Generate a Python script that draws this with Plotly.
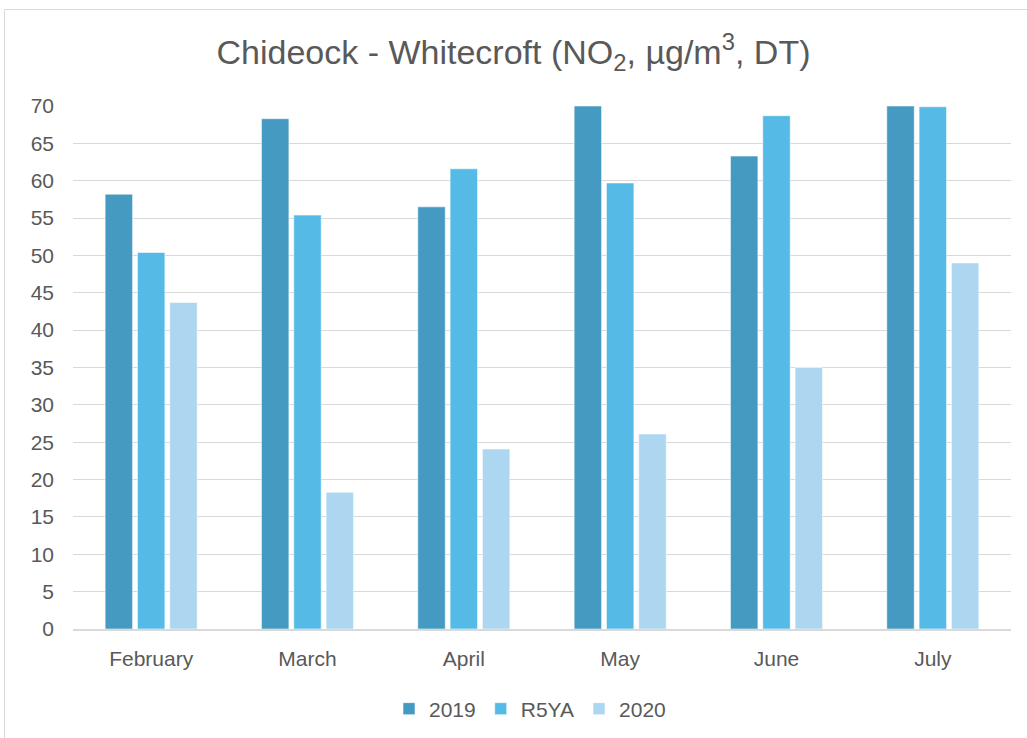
import plotly.graph_objects as go

months = ["February", "March", "April", "May", "June", "July"]
no2_2019 = [58.2, 68.3, 56.5, 70.0, 63.3, 70.0]
no2_r5ya = [50.4, 55.4, 61.6, 59.7, 68.7, 69.9]
no2_2020 = [43.7, 18.3, 24.1, 26.1, 35.0, 49.0]
y_ticks = list(range(0, 75, 5))

series = [
    ("2019", no2_2019, "#459AC1"),
    ("R5YA", no2_r5ya, "#55BBE6"),
    ("2020", no2_2020, "#ADD7F0"),
]

FONT = "Liberation Sans, Arial, sans-serif"
GREY = "#595959"

fig = go.Figure()
for name, vals, col in series:
    fig.add_trace(go.Bar(
        x=months, y=vals, name=name,
        marker=dict(color=col, line=dict(color="rgba(255,255,255,0.55)", width=1)),
    ))

W, H = 1027, 738
L, R, T, B = 73, 16, 106, 109
pw, ph = W - L - R, H - T - B

def px_x(p):
    return (p - L) / pw

def px_y(p):
    return (H - B - p) / ph

fig.update_layout(
    width=W, height=H,
    margin=dict(l=L, r=R, t=T, b=B, autoexpand=False),
    paper_bgcolor="white", plot_bgcolor="white",
    barmode="group", bargap=0.38, bargroupgap=0.15,
    font=dict(family=FONT, color=GREY, size=21),
    title=dict(
        text="Chideock - Whitecroft (NO<sub>2</sub>, µg/m<sup>3</sup>, DT)",
        x=0.5, xref="container", xanchor="center",
        y=1 - 52 / H, yref="container", yanchor="middle",
        font=dict(family=FONT, size=34, color=GREY),
    ),
    legend=dict(
        orientation="h", x=px_x(530), xanchor="center",
        y=px_y(709), yanchor="middle",
        font=dict(family=FONT, size=21, color=GREY),
        itemwidth=30, traceorder="normal",
    ),
    xaxis=dict(
        showgrid=False, showline=True, linecolor="#D9D9D9", linewidth=1.5,
        ticks="", ticklabelstandoff=10, automargin=False,
        tickfont=dict(family=FONT, size=21, color=GREY),
    ),
    yaxis=dict(
        range=[0, 70], tickvals=y_ticks, showgrid=True,
        gridcolor="#D9D9D9", gridwidth=1.3, zeroline=False,
        ticks="", ticklabelstandoff=18, automargin=False,
        tickfont=dict(family=FONT, size=21, color=GREY),
    ),
    shapes=[dict(
        type="rect", xref="paper", yref="paper",
        x0=px_x(4.5), y0=px_y(760), x1=px_x(1040), y1=px_y(9.5),
        line=dict(color="#D9D9D9", width=1), fillcolor="rgba(0,0,0,0)",
        layer="below",
    )],
)

fig.write_html("out.html")
